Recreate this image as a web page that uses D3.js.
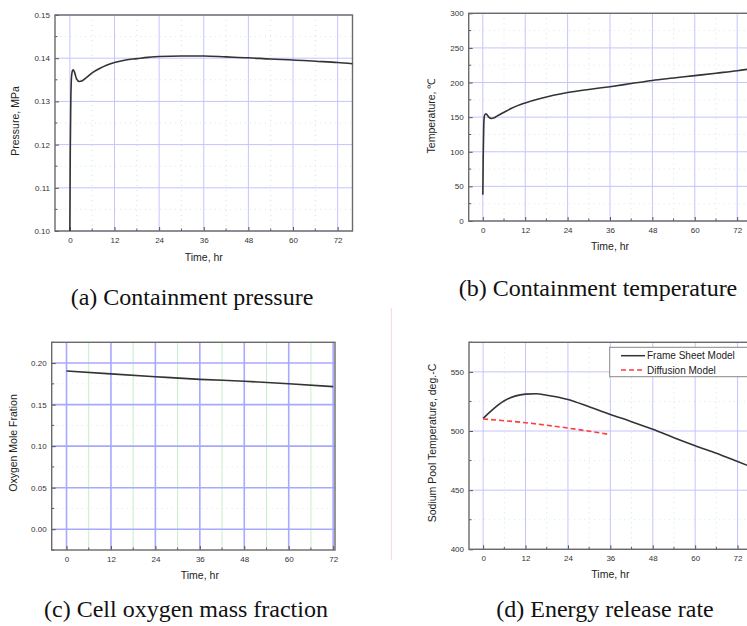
<!DOCTYPE html>
<html>
<head>
<meta charset="utf-8">
<script src="https://cdn.jsdelivr.net/npm/d3@7"></script>
<style>
body { margin: 0; background: #fff; }
svg { display: block; }
.tick text { font-family: "Liberation Sans", Arial, sans-serif; fill: #333; }
</style>
</head>
<body>
<svg id="chart" width="747" height="626"></svg>
<script>
// (a) containment pressure
var timeA = [0, 0.1, 0.25, 0.45, 0.7, 0.95, 1.3, 1.8, 2.5, 3.2, 4, 5, 6, 8, 10, 12, 15, 18, 21, 24, 30, 36, 42, 48, 54, 60, 66, 72, 76];
var pressure = [0.100, 0.118, 0.130, 0.1358, 0.1371, 0.1373, 0.1366, 0.1352, 0.1346, 0.1347, 0.1352, 0.1359, 0.1366, 0.1376, 0.1384, 0.1390, 0.1396, 0.1399, 0.1402, 0.1404, 0.1405, 0.1405, 0.1403, 0.1401, 0.1398, 0.1396, 0.1393, 0.1390, 0.1387];

// (b) containment temperature
var timeB = [0, 0.1, 0.25, 0.45, 0.8, 1.2, 1.7, 2.4, 3.2, 4, 6, 8, 10, 12, 16, 20, 24, 30, 36, 42, 48, 54, 60, 66, 72, 76];
var temperature = [38, 90, 135, 152, 155, 153.5, 150, 148, 149, 151.5, 157, 162.5, 167, 170.5, 176.5, 181.5, 185.5, 190, 194, 198.5, 203, 206.5, 210, 213.5, 217, 220];

// (c) oxygen mole fraction
var timeC = [0, 12, 24, 36, 48, 60, 72];
var oxygen = [0.1905, 0.1870, 0.1836, 0.1804, 0.1782, 0.1752, 0.1716];

// (d) sodium pool temperature
var timeD = [0, 3, 6, 9, 12, 15, 18, 24, 30, 36, 42, 48, 54, 60, 66, 72, 76];
var frameSheet = [510.7, 519, 525.6, 529.5, 531.2, 531.5, 530.3, 526.7, 520.5, 514, 507.9, 501.4, 494.4, 487.6, 481.2, 474.2, 469.5];
var timeDiff = [0, 12, 24, 35.5];
var diffusion = [510.2, 507, 502.5, 497.2];

var xTicks = [0, 12, 24, 36, 48, 60, 72];
var xMinor = [6, 18, 30, 42, 54, 66];
var yTicksA = [0.10, 0.11, 0.12, 0.13, 0.14, 0.15];
var yTicksB = [0, 50, 100, 150, 200, 250, 300];
var yTicksC = [0.00, 0.05, 0.10, 0.15, 0.20];
var yTicksD = [400, 450, 500, 550];
var yTitles = ["Pressure, MPa", "Temperature, \u2103", "Oxygen Mole Fration", "Sodium Pool Temperature, deg.-C"];
var captions = ["(a) Containment pressure", "(b) Containment temperature", "(c) Cell oxygen mass fraction", "(d) Energy release rate"];
var legendLabels = ["Frame Sheet Model", "Diffusion Model"];

var svg = d3.select("#chart");

function minorOf(ticks) {
	var out = [];
	for (var i = 0; i < ticks.length - 1; i++) out.push((ticks[i] + ticks[i+1]) / 2);
	return out;
}

function drawPanel(p) {
	var x = d3.scaleLinear().domain(p.xDomain).range([p.left, p.right]);
	var y = d3.scaleLinear().domain(p.yDomain).range([p.bottom, p.top]);
	var g = svg.append("g");
	var yMinor = minorOf(p.yTicks);
	if (p.yDomain[0] < p.yTicks[0]) yMinor.unshift(p.yTicks[0] - (p.yTicks[1] - p.yTicks[0]) / 2);
	if (p.yDomain[1] > p.yTicks[p.yTicks.length-1]) yMinor.push(p.yTicks[p.yTicks.length-1] + (p.yTicks[1] - p.yTicks[0]) / 2);

	// minor grid
	g.selectAll(".mgx").data(xMinor).enter().append("line")
		.attr("x1", d => x(d)).attr("x2", d => x(d))
		.attr("y1", p.top).attr("y2", p.bottom)
		.style("stroke", "#c6eec6").style("stroke-width", 1).style("stroke-dasharray", p.dotted ? "1,4" : null);
	g.selectAll(".mgy").data(yMinor).enter().append("line")
		.attr("x1", p.left).attr("x2", p.right)
		.attr("y1", d => y(d)).attr("y2", d => y(d))
		.style("stroke", "#d2f0d2").style("stroke-width", 1).style("stroke-dasharray", "1,4");
	// major grid
	g.selectAll(".gx").data(xTicks).enter().append("line")
		.attr("x1", d => x(d)).attr("x2", d => x(d))
		.attr("y1", p.top).attr("y2", p.bottom)
		.style("stroke", p.gridColor).style("stroke-width", p.gridWidth);
	g.selectAll(".gy").data(p.yTicks).enter().append("line")
		.attr("x1", p.left).attr("x2", p.right)
		.attr("y1", d => y(d)).attr("y2", d => y(d))
		.style("stroke", p.gridColor).style("stroke-width", p.gridWidth);

	// axes, ticks pointing inward
	var xAxis = g.append("g").attr("transform", "translate(0," + p.bottom + ")")
		.call(d3.axisBottom(x).tickValues(xTicks).tickSize(-4).tickPadding(6));
	xAxis.append("g").selectAll("line").data(xMinor).enter().append("line")
		.attr("x1", d => x(d)).attr("x2", d => x(d)).attr("y1", 0).attr("y2", -2.5)
		.style("stroke", "#555");
	var yAxis = g.append("g").attr("transform", "translate(" + p.left + ",0)")
		.call(d3.axisLeft(y).tickValues(p.yTicks).tickFormat(p.fmt).tickSize(-4).tickPadding(5));
	yAxis.append("g").selectAll("line").data(yMinor).enter().append("line")
		.attr("x1", 0).attr("x2", 2.5).attr("y1", d => y(d)).attr("y2", d => y(d))
		.style("stroke", "#555");
	g.selectAll(".domain").remove();
	g.selectAll(".tick line").style("stroke", "#555");
	g.selectAll(".tick text").style("font-size", "8px");

	// frame
	g.append("rect").attr("x", p.left).attr("y", p.top)
		.attr("width", p.right - p.left).attr("height", p.bottom - p.top)
		.style("fill", "none").style("stroke", "#6a6a6a").style("stroke-width", 1.4);

	// titles
	g.append("text").attr("x", x(36)).attr("y", p.xTitleY)
		.attr("text-anchor", "middle").attr("dominant-baseline", "central")
		.style("font-family", "Liberation Sans, Arial, sans-serif").style("font-size", "10.5px").style("fill", "#222")
		.text("Time, hr");
	g.append("text").attr("transform", "translate(" + p.yTitleX + "," + p.yTitleY + ") rotate(-90)")
		.attr("text-anchor", "middle").attr("dominant-baseline", "central")
		.style("font-family", "Liberation Sans, Arial, sans-serif").style("font-size", "10.5px").style("fill", "#222")
		.text(p.yTitle);
	g.append("text").attr("x", p.capX).attr("y", p.capY)
		.attr("text-anchor", "middle")
		.style("font-family", "Liberation Serif, Times New Roman, serif").style("font-size", "24px").style("fill", "#111")
		.text(p.caption);

	return {x: x, y: y, g: g};
}

function drawCurve(panel, xs, ys, color, dash) {
	var line = d3.line().x(d => panel.x(d[0])).y(d => panel.y(d[1])).curve(d3.curveMonotoneX);
	panel.g.append("path").datum(xs.map((t, i) => [t, ys[i]]))
		.attr("d", line)
		.style("fill", "none").style("stroke", color).style("stroke-width", 1.6)
		.style("stroke-dasharray", dash);
}

var fmt2 = d3.format(".2f");

var pa = drawPanel({left: 55, right: 352.5, top: 15, bottom: 231, xDomain: [-4, 76], yDomain: [0.10, 0.15],
	yTicks: yTicksA, fmt: fmt2, gridColor: "#c4c4ff", gridWidth: 1, dotted: true,
	xTitleY: 256.5, yTitleX: 15, yTitleY: 121, yTitle: yTitles[0], caption: captions[0], capX: 192, capY: 305});
drawCurve(pa, timeA, pressure, "#333", null);

var pb = drawPanel({left: 468.7, right: 751.3, top: 13.3, bottom: 221, xDomain: [-4, 76], yDomain: [0, 300],
	yTicks: yTicksB, fmt: d3.format("d"), gridColor: "#c4c4ff", gridWidth: 1, dotted: true,
	xTitleY: 245.5, yTitleX: 431, yTitleY: 116, yTitle: yTitles[1], caption: captions[1], capX: 598, capY: 296});
drawCurve(pb, timeB, temperature, "#333", null);

var pc = drawPanel({left: 51.7, right: 335, top: 342.3, bottom: 550, xDomain: [-4, 72.5], yDomain: [-0.025, 0.225],
	yTicks: yTicksC, fmt: fmt2, gridColor: "#a8a8ff", gridWidth: 1.6, dotted: false,
	xTitleY: 575, yTitleX: 13, yTitleY: 443, yTitle: yTitles[2], caption: captions[2], capX: 186, capY: 617});
drawCurve(pc, timeC, oxygen, "#333", null);

var pd = drawPanel({left: 469, right: 751.7, top: 342.3, bottom: 549.3, xDomain: [-4, 76], yDomain: [400, 575],
	yTicks: yTicksD, fmt: d3.format("d"), gridColor: "#c4c4ff", gridWidth: 1, dotted: true,
	xTitleY: 573.5, yTitleX: 432, yTitleY: 443, yTitle: yTitles[3], caption: captions[3], capX: 605, capY: 617});
drawCurve(pd, timeD, frameSheet, "#333", null);
drawCurve(pd, timeDiff, diffusion, "#ff3b3b", "5,3");

// legend of (d)
var legend = svg.append("g");
legend.append("rect").attr("x", 609.7).attr("y", 347.3).attr("width", 150).attr("height", 29.4)
	.style("fill", "#fff").style("stroke", "#888").style("stroke-width", 1);
legend.selectAll(".lg").data(legendLabels).enter().append("line")
	.attr("x1", 621).attr("x2", 645).attr("y1", (d, i) => 355.7 + i * 14.3).attr("y2", (d, i) => 355.7 + i * 14.3)
	.style("stroke", (d, i) => i == 0 ? "#333" : "#ff3b3b").style("stroke-width", 1.5)
	.style("stroke-dasharray", (d, i) => i == 0 ? null : "5,3");
legend.selectAll(".lt").data(legendLabels).enter().append("text")
	.attr("x", 647).attr("y", (d, i) => 355.7 + i * 14.3)
	.attr("dominant-baseline", "central")
	.style("font-family", "Liberation Sans, Arial, sans-serif").style("font-size", "10px").style("fill", "#222")
	.text(d => d);

// faint separator line left of (d)
svg.append("line").attr("x1", 391.3).attr("x2", 391.3).attr("y1", 308).attr("y2", 560)
	.style("stroke", "#fbd6d6").style("stroke-width", 1);
</script>
</body>
</html>
